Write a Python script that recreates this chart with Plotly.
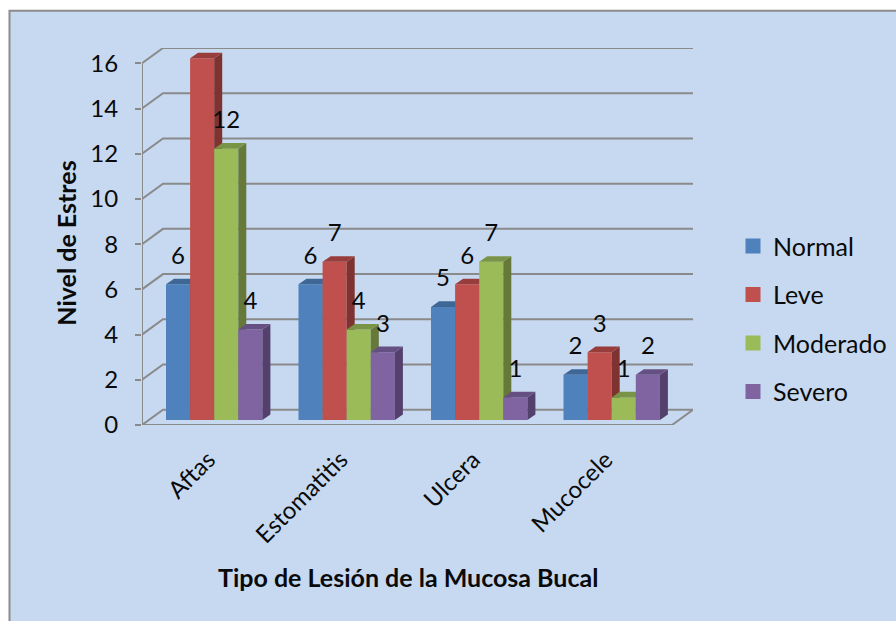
import plotly.graph_objects as go

categories = ["Aftas", "Estomatitis", "Ulcera", "Mucocele"]
series_names = ["Normal", "Leve", "Moderado", "Severo"]
normal = [6, 6, 5, 2]
leve = [16, 7, 6, 3]
moderado = [12, 4, 7, 1]
severo = [4, 3, 1, 2]
y_ticks = [0, 2, 4, 6, 8, 10, 12, 14, 16]

series_values = [normal, leve, moderado, severo]
front_colors = ["#4f81bd", "#c0504d", "#9bbb59", "#8064a2"]
side_colors = ["#35567d", "#7f3331", "#66793a", "#54406c"]
top_colors = ["#3f6796", "#983d3b", "#7a9447", "#665083"]

# pixel geometry of the plot frame
W, H = 896, 621
L, R, T, B = 142, 693, 47.7, 425
PX = 132.5   # px per category
PY = 22.625  # px per value unit
WALL_X, WALL_Y = 21 / PX, 15.3 / PY
BAR_W = 24.1 / PX
BAR_X0 = 24 / PX
BAR_BASE = 5 / PY
DEPTH_X, DEPTH_Y = 8 / PX, 5.6 / PY
LABEL_UP = 26.5 / PY
GRID = "#8a8a8a"
TXT = "#0a0a0a"
FONT = "Lato"
SIZE = 24
n = len(categories)

fig = go.Figure()

def line(xs, ys):
    fig.add_trace(go.Scatter(x=xs, y=ys, mode="lines", line=dict(color=GRID, width=2),
                             showlegend=False, hoverinfo="skip", cliponaxis=False, zorder=0))

for v in y_ticks:
    if v == 0:
        line([0, WALL_X, n + WALL_X, n, 0], [0, WALL_Y, WALL_Y, 0, 0])
    else:
        line([0, WALL_X, n + WALL_X], [v, v + WALL_Y, v + WALL_Y])
line([0, 0], [0, y_ticks[-1]])

for j, (name, vals) in enumerate(zip(series_names, series_values)):
    z = j + 1
    xc = [i + BAR_X0 + (j + 0.5) * BAR_W for i in range(n)]
    for x, v in zip(xc, vals):
        xl, xr = x - BAR_W / 2, x + BAR_W / 2
        top = v + BAR_BASE
        fig.add_trace(go.Scatter(
            x=[xr, xr + DEPTH_X, xr + DEPTH_X, xr, xr],
            y=[BAR_BASE, BAR_BASE + DEPTH_Y, top + DEPTH_Y, top, BAR_BASE],
            mode="lines", fill="toself", fillcolor=side_colors[j],
            line=dict(width=0, color=side_colors[j]), showlegend=False, hoverinfo="skip",
            cliponaxis=False, zorder=z))
        fig.add_trace(go.Scatter(
            x=[xl, xl + DEPTH_X, xr + DEPTH_X, xr, xl],
            y=[top, top + DEPTH_Y, top + DEPTH_Y, top, top],
            mode="lines", fill="toself", fillcolor=top_colors[j],
            line=dict(width=0, color=top_colors[j]), showlegend=False, hoverinfo="skip",
            cliponaxis=False, zorder=z))
    fig.add_trace(go.Bar(x=xc, y=vals, base=BAR_BASE, width=BAR_W, name=name,
                         marker=dict(color=front_colors[j], line=dict(width=0)),
                         showlegend=False, cliponaxis=False, zorder=z))
    fig.add_trace(go.Scatter(x=xc, y=[v + BAR_BASE + LABEL_UP for v in vals], mode="text",
                             text=[str(v) for v in vals], textposition="middle center",
                             textfont=dict(family=FONT, size=SIZE, color=TXT),
                             showlegend=False, hoverinfo="skip", cliponaxis=False, zorder=10))
    fig.add_trace(go.Scatter(x=[None], y=[None], mode="markers", name=name, legendgroup=name,
                             marker=dict(symbol="square", size=15, color=front_colors[j])))

fig.update_layout(
    width=W, height=H, autosize=False,
    margin=dict(l=L, r=W - R, t=T, b=H - B, pad=0, autoexpand=False),
    paper_bgcolor="white", plot_bgcolor="rgba(0,0,0,0)",
    barmode="overlay", font=dict(family=FONT, size=SIZE, color=TXT),
    xaxis=dict(range=[0, n + WALL_X], tickmode="array",
               tickvals=[i + 0.5 for i in range(n)], ticktext=categories,
               tickangle=-45, ticks="", showgrid=False, zeroline=False, showline=False,
               ticklabelstandoff=15,
               tickfont=dict(family=FONT, size=SIZE, color=TXT), automargin=False),
    yaxis=dict(range=[0, y_ticks[-1] + WALL_Y], tickmode="array", tickvals=y_ticks,
               ticks="outside", ticklen=6, tickwidth=2, tickcolor=GRID,
               showgrid=False, zeroline=False, showline=False,
               ticklabelstandoff=12,
               tickfont=dict(family=FONT, size=SIZE, color=TXT), automargin=False),
    legend=dict(x=(733 - L) / (R - L), y=1 - (223 - T) / (B - T), xanchor="left", yanchor="top",
                tracegroupgap=13, bgcolor="rgba(0,0,0,0)", font=dict(family=FONT, size=25, color=TXT)),
    shapes=[dict(type="rect", layer="below", xref="paper", yref="paper",
                 x0=(9.5 - L) / (R - L), x1=(910 - L) / (R - L),
                 y0=(B - 640) / (B - T), y1=(B - 10.5) / (B - T),
                 fillcolor="#c6d9f1", line=dict(color="#8c8c8c", width=2))],
    annotations=[
        dict(text="<b>Nivel de Estres</b>", xref="paper", yref="paper", textangle=-90,
             x=(66.5 - L) / (R - L), y=(B - 243) / (B - T), showarrow=False,
             xanchor="center", yanchor="middle", font=dict(family=FONT, size=25, color=TXT)),
        dict(text="<b>Tipo de Lesión de la Mucosa Bucal</b>", xref="paper", yref="paper",
             x=(407.5 - L) / (R - L), y=(B - 577) / (B - T), showarrow=False,
             xanchor="center", yanchor="middle", font=dict(family=FONT, size=25, color=TXT)),
    ],
)
fig.write_html("out.html", post_script="document.body.style.margin='0';",
               config=dict(displayModeBar=False))
